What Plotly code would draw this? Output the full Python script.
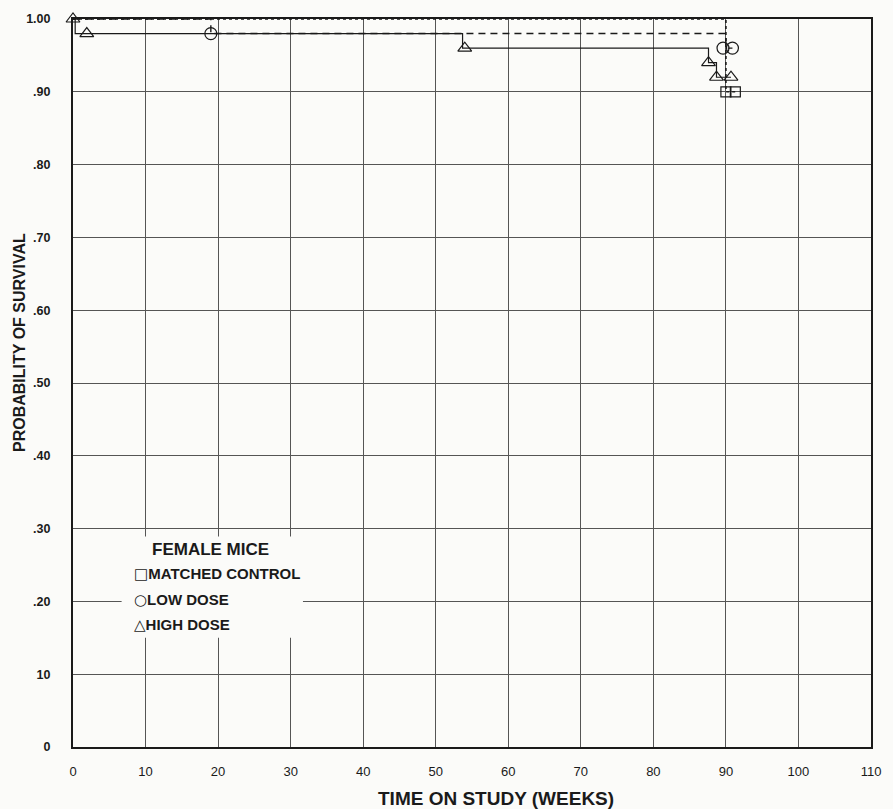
import plotly.graph_objects as go

# ---- data ----
x_ticks = [0, 10, 20, 30, 40, 50, 60, 70, 80, 90, 100, 110]
y_tickvals = [0, 0.1, 0.2, 0.3, 0.4, 0.5, 0.6, 0.7, 0.8, 0.9, 1.0]
y_ticktext = ["0", "10", ".20", ".30", ".40", ".50", ".60", ".70", ".80", ".90", "1.00"]

# Kaplan-Meier step curves (weeks, survival probability)
control_weeks = [0, 90, 91.3]
control_surv = [1.00, 0.90, 0.90]
control_mark_weeks = [90.0, 91.3]
control_mark_surv = [0.90, 0.90]

low_weeks = [0, 19, 90, 90.9]
low_surv = [1.00, 0.98, 0.96, 0.96]
low_mark_weeks = [19, 89.6, 90.9]
low_mark_surv = [0.98, 0.96, 0.96]

high_weeks = [0, 0.3, 53.7, 87.6, 88.7, 90.7]
high_surv = [1.00, 0.98, 0.96, 0.94, 0.92, 0.92]
high_mark_weeks = [0, 1.9, 54, 87.6, 88.7, 90.7]
high_mark_surv = [1.00, 0.98, 0.96, 0.94, 0.92, 0.92]

legend_title = "FEMALE MICE"
legend_symbols = ["\u25a1", "\u25cb", "\u25b3"]
legend_labels = ["MATCHED CONTROL", "LOW DOSE", "HIGH DOSE"]

INK = "#1a1a1a"
BG = "#fbfbf9"
FONT = "Liberation Sans, Arial, sans-serif"

fig = go.Figure()

fig.add_trace(go.Scatter(x=control_weeks, y=control_surv, mode="lines",
                         line=dict(color=INK, width=1.6, dash="dot", shape="hv"),
                         showlegend=False, hoverinfo="skip"))
fig.add_trace(go.Scatter(x=low_weeks, y=low_surv, mode="lines",
                         line=dict(color=INK, width=1.4, dash="7px,5px", shape="hv"),
                         showlegend=False, hoverinfo="skip"))
fig.add_trace(go.Scatter(x=high_weeks, y=high_surv, mode="lines",
                         line=dict(color=INK, width=1.2, shape="hv"),
                         showlegend=False, hoverinfo="skip"))

fig.add_trace(go.Scatter(x=control_mark_weeks, y=control_mark_surv, mode="markers",
                         marker=dict(symbol="square-open", size=10, color=INK,
                                     line=dict(width=1.2, color=INK)),
                         showlegend=False, cliponaxis=False))
fig.add_trace(go.Scatter(x=low_mark_weeks, y=low_mark_surv, mode="markers",
                         marker=dict(symbol="circle-open", size=12, color=INK,
                                     line=dict(width=1.2, color=INK)),
                         showlegend=False, cliponaxis=False))
fig.add_trace(go.Scatter(x=high_mark_weeks, y=high_mark_surv, mode="markers",
                         marker=dict(symbol="triangle-up-open", size=12, color=INK,
                                     line=dict(width=1.2, color=INK)),
                         showlegend=False, cliponaxis=False))

# legend box (white patch covering the grid)
fig.add_shape(type="rect", xref="x", yref="y", x0=6.7, x1=31.7, y0=0.150, y1=0.289,
              fillcolor=BG, line=dict(width=0), layer="above")

fig.add_annotation(x=19.0, y=0.271, xref="x", yref="y", text=legend_title,
                   showarrow=False, xanchor="center", yanchor="middle",
                   font=dict(family=FONT, size=17, color=INK, weight="bold"))
legend_y = [0.238, 0.2025, 0.167]
for sym, lab, yy in zip(legend_symbols, legend_labels, legend_y):
    fig.add_annotation(x=8.2, y=yy, xref="x", yref="y",
                       text=f"<span style='font-family:DejaVu Sans;font-size:15px;font-weight:normal'>{sym}</span>{lab}",
                       showarrow=False, xanchor="left", yanchor="middle",
                       font=dict(family=FONT, size=15, color=INK, weight="bold"))

# axis titles
fig.add_annotation(x=-0.068, y=0.556, xref="paper", yref="paper",
                   text="PROBABILITY OF SURVIVAL", textangle=-90, showarrow=False,
                   xanchor="center", yanchor="middle",
                   font=dict(family=FONT, size=16, color=INK, weight="bold"))
fig.add_annotation(x=0.53, y=-0.071, xref="paper", yref="paper",
                   text="TIME ON STUDY (WEEKS)", showarrow=False,
                   xanchor="center", yanchor="middle",
                   font=dict(family=FONT, size=19, color=INK, weight="bold"))

fig.update_layout(
    width=893, height=809,
    margin=dict(l=73, r=14, t=15, b=62),
    paper_bgcolor=BG, plot_bgcolor=BG,
    showlegend=False,
    xaxis=dict(range=[0, 110], tickvals=x_ticks, ticks="",
               showgrid=True, gridcolor="#555555", gridwidth=1,
               showline=True, linecolor=INK, linewidth=1.6, mirror=True,
               zeroline=False, ticklabelstandoff=12,
               tickfont=dict(family=FONT, size=13, color=INK)),
    yaxis=dict(range=[0, 1.0], tickvals=y_tickvals, ticktext=y_ticktext, ticks="",
               showgrid=True, gridcolor="#555555", gridwidth=1,
               showline=True, linecolor=INK, linewidth=2, mirror=True,
               zeroline=False, ticklabelstandoff=18,
               tickfont=dict(family=FONT, size=12.5, color=INK, weight="bold")),
)

fig.write_html("out.html", config={"displayModeBar": False},
               post_script=("document.documentElement.style.overflow='hidden';"
                            "document.body.style.overflow='hidden';"
                            "document.body.style.margin='0';"
                            "document.body.style.padding='0';"))
